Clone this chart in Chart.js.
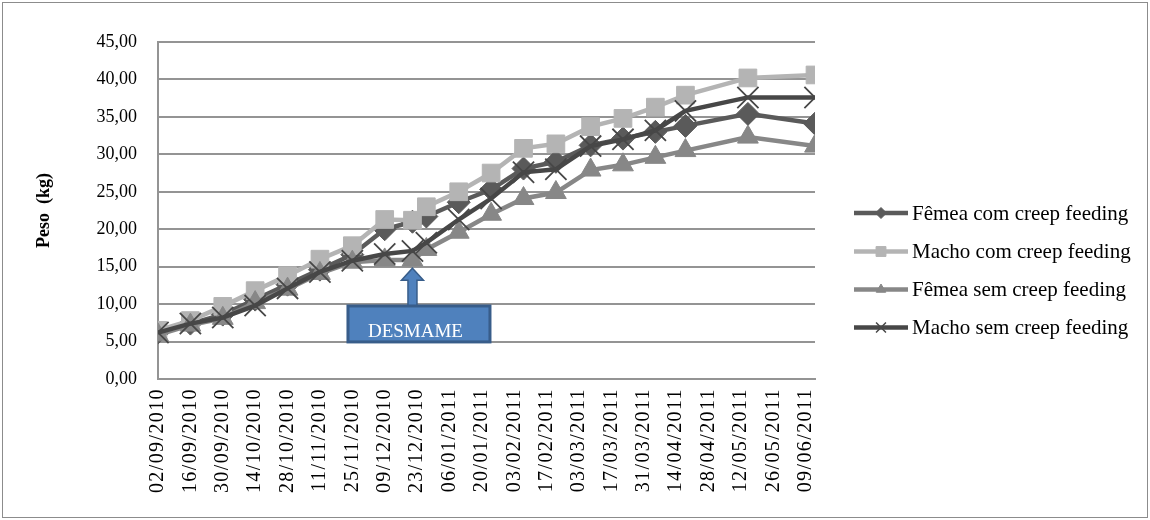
<!DOCTYPE html>
<html>
<head>
<meta charset="utf-8">
<title>Peso (kg)</title>
<style>
  html, body { margin: 0; padding: 0; background: #ffffff; }
  #wrap { width: 1150px; height: 520px; position: relative; }
</style>
<script src="https://cdn.jsdelivr.net/npm/chart.js@4.4.1/dist/chart.umd.min.js"></script>
</head>
<body>
<div id="wrap"><canvas id="chart" width="1150" height="520"></canvas></div>
<script>
// Weighing dates (dd/mm/yyyy)
const weighDates = [
  '02/09/2010', '16/09/2010', '30/09/2010', '14/10/2010', '28/10/2010',
  '11/11/2010', '25/11/2010', '09/12/2010', '21/12/2010', '27/12/2010',
  '10/01/2011', '24/01/2011', '07/02/2011', '21/02/2011', '08/03/2011',
  '22/03/2011', '05/04/2011', '18/04/2011', '15/05/2011', '13/06/2011'
];

// Mean live weight (kg) per group
const femeaCom = [6.2, 7.4, 8.6, 10.6, 12.6, 14.6, 16.6, 20.0, 21.0, 21.7, 23.6, 25.3, 28.1, 29.0, 31.2, 32.1, 33.0, 33.8, 35.4, 34.1];
const machoCom = [6.5, 7.8, 9.7, 11.8, 13.8, 16.0, 17.8, 21.3, 21.2, 23.0, 25.0, 27.5, 30.8, 31.4, 33.7, 34.8, 36.3, 37.9, 40.2, 40.6];
const femeaSem = [5.9, 7.2, 8.1, 10.2, 12.0, 14.1, 15.6, 15.9, 15.9, 17.3, 19.6, 22.0, 24.1, 24.9, 27.9, 28.6, 29.6, 30.5, 32.3, 31.1];
const machoSem = [6.2, 7.4, 8.2, 9.8, 12.1, 14.3, 15.8, 16.7, 17.1, 18.2, 21.3, 24.1, 27.6, 28.0, 31.1, 32.0, 33.2, 35.8, 37.6, 37.6];

const seriesNames = [
  'Fêmea com creep feeding',
  'Macho com creep feeding',
  'Fêmea sem creep feeding',
  'Macho sem creep feeding'
];

// Date-axis tick labels, one every 14 days
const axisDates = [
  '02/09/2010', '16/09/2010', '30/09/2010', '14/10/2010', '28/10/2010',
  '11/11/2010', '25/11/2010', '09/12/2010', '23/12/2010', '06/01/2011',
  '20/01/2011', '03/02/2011', '17/02/2011', '03/03/2011', '17/03/2011',
  '31/03/2011', '14/04/2011', '28/04/2011', '12/05/2011', '26/05/2011',
  '09/06/2011'
];

const weaningDate = '21/12/2010';
const weaningLabel = 'DESMAME';
const yTicks = [0, 5, 10, 15, 20, 25, 30, 35, 40, 45];

// --- helpers -------------------------------------------------------------
function toUTC(s) {
  const [d, m, y] = s.split('/').map(Number);
  return Date.UTC(y, m - 1, d);
}
const origin = toUTC(weighDates[0]);
function dayOf(s) { return Math.round((toUTC(s) - origin) / 86400000); }

const axisDays = axisDates.map(dayOf);
const lastDay = dayOf(weighDates[weighDates.length - 1]);

function pts(values) {
  return weighDates.map((d, i) => ({ x: dayOf(d), y: values[i] }));
}

const SERIF = "'Liberation Serif', 'Times New Roman', serif";
const GRID = '#949494';

const styles = [
  { color: '#5a5a5a', point: 'rectRot',  radius: 11.5, border: 1 },
  { color: '#b4b4b4', point: 'rect',     radius: 12.5, border: 1 },
  { color: '#878787', point: 'triangle', radius: 12,   border: 1 },
  { color: '#474747', point: 'crossRot', radius: 15,   border: 1.8 }
];
const allSeries = [femeaCom, machoCom, femeaSem, machoSem];

const datasets = allSeries.map((vals, i) => ({
  label: seriesNames[i],
  data: pts(vals),
  borderColor: styles[i].color,
  backgroundColor: styles[i].color,
  borderWidth: 4.5,
  pointStyle: styles[i].point,
  pointRadius: styles[i].radius,
  pointHoverRadius: styles[i].radius,
  pointBackgroundColor: styles[i].color,
  pointBorderColor: styles[i].color,
  pointBorderWidth: styles[i].border,
  tension: 0,
  fill: false,
  order: allSeries.length - i
}));

// --- plugins --------------------------------------------------------------
const pageBackground = {
  id: 'pageBackground',
  beforeDraw(chart) {
    const ctx = chart.ctx;
    ctx.save();
    ctx.fillStyle = '#ffffff';
    ctx.fillRect(0, 0, chart.width, chart.height);
    ctx.restore();
  },
  afterDraw(chart) {
    const ctx = chart.ctx;
    ctx.save();
    ctx.strokeStyle = '#8c8c8c';
    ctx.lineWidth = 1;
    ctx.strokeRect(2.5, 2.5, chart.width - 5, chart.height - 5);
    ctx.restore();
  }
};

// Weaning marker: arrow pointing at the weaning date with a labelled box
const weaningMarker = {
  id: 'weaningMarker',
  afterDatasetsDraw(chart) {
    const { ctx, scales: { x, y } } = chart;
    const ax = x.getPixelForValue(dayOf(weaningDate));
    const tipY = y.getPixelForValue(14.8);
    const headY = y.getPixelForValue(13.2);
    const boxTop = y.getPixelForValue(9.75);
    const boxBottom = y.getPixelForValue(4.95);
    const boxL = ax - 64.5, boxR = ax + 77.5;

    ctx.save();
    // arrow
    ctx.beginPath();
    ctx.moveTo(ax, tipY);
    ctx.lineTo(ax + 11, headY);
    ctx.lineTo(ax + 4.5, headY);
    ctx.lineTo(ax + 4.5, boxTop);
    ctx.lineTo(ax - 4.5, boxTop);
    ctx.lineTo(ax - 4.5, headY);
    ctx.lineTo(ax - 11, headY);
    ctx.closePath();
    ctx.fillStyle = '#4f81bd';
    ctx.fill();
    ctx.strokeStyle = '#385d8a';
    ctx.lineWidth = 1.5;
    ctx.stroke();

    // box
    ctx.fillStyle = '#4f81bd';
    ctx.fillRect(boxL, boxTop, boxR - boxL, boxBottom - boxTop);
    ctx.strokeStyle = '#385d8a';
    ctx.lineWidth = 3;
    ctx.strokeRect(boxL, boxTop, boxR - boxL, boxBottom - boxTop);

    // label
    ctx.fillStyle = '#ffffff';
    ctx.font = '19px ' + SERIF;
    ctx.textAlign = 'center';
    ctx.textBaseline = 'alphabetic';
    ctx.fillText(weaningLabel, ax + 3, boxBottom - 5);
    ctx.restore();
  }
};

// Legend on the right: line sample with marker, then series name
const sideLegend = {
  id: 'sideLegend',
  afterDraw(chart) {
    const ctx = chart.ctx;
    const x0 = 854, x1 = 908, tx = 912;
    const rows = [213, 251.5, 289.5, 327.5];
    ctx.save();
    chart.data.datasets.forEach((ds, i) => {
      const yy = rows[i];
      ctx.beginPath();
      ctx.moveTo(x0, yy);
      ctx.lineTo(x1, yy);
      ctx.strokeStyle = ds.borderColor;
      ctx.lineWidth = 4.5;
      ctx.stroke();
      ctx.fillStyle = ds.pointBackgroundColor;
      ctx.strokeStyle = ds.pointBorderColor;
      ctx.lineWidth = ds.pointStyle === 'crossRot' ? 1.5 : 1;
      const r = ds.pointStyle === 'crossRot' ? 7 : (ds.pointStyle === 'rect' ? 7 : 5.5);
      Chart.helpers.drawPoint(ctx, { pointStyle: ds.pointStyle, radius: r, rotation: 0, borderWidth: 1 }, (x0 + x1) / 2, yy);
      ctx.fillStyle = '#000000';
      ctx.font = '21px ' + SERIF;
      ctx.textAlign = 'left';
      ctx.textBaseline = 'middle';
      ctx.fillText(ds.label, tx, yy + 1);
    });
    ctx.restore();
  }
};

// --- chart ---------------------------------------------------------------
const chart = new Chart(document.getElementById('chart'), {
  type: 'line',
  data: { datasets },
  plugins: [pageBackground, weaningMarker, sideLegend],
  options: {
    responsive: false,
    animation: false,
    events: [],
    layout: { padding: { left: 28, right: 335, top: 42, bottom: 0 } },
    plugins: {
      legend: { display: false },
      tooltip: { enabled: false },
      title: { display: false }
    },
    scales: {
      x: {
        type: 'linear',
        min: 0,
        max: lastDay,
        afterBuildTicks(scale) {
          scale.ticks = axisDays.map(v => ({ value: v }));
        },
        afterFit(scale) { scale.height = 141; },
        grid: { display: false, drawTicks: false },
        border: { display: true, color: GRID, width: 2 },
        ticks: {
          autoSkip: false,
          minRotation: 90,
          maxRotation: 90,
          padding: 9,
          color: '#000000',
          font: { family: SERIF, size: 20 },
          callback: (value, index) => axisDates[index]
        }
      },
      y: {
        min: 0,
        max: 45,
        afterBuildTicks(scale) {
          scale.ticks = yTicks.map(v => ({ value: v }));
        },
        afterFit(scale) { scale.width = 130; },
        grid: { color: GRID, lineWidth: 2, drawTicks: false },
        border: { display: true, color: GRID, width: 2 },
        ticks: {
          padding: 21,
          color: '#000000',
          font: { family: SERIF, size: 18 },
          callback: v => v.toFixed(2).replace('.', ',')
        },
        title: {
          display: true,
          text: 'Peso  (kg)',
          color: '#000000',
          padding: { top: 6, bottom: 0 },
          font: { family: SERIF, size: 18, weight: 'bold' }
        }
      }
    }
  }
});

// Date labels on the x axis are set a little more loosely
const xAxis = chart.scales.x;
const drawDateLabels = xAxis.drawLabels.bind(xAxis);
xAxis.drawLabels = function (area) {
  const c = this.ctx;
  c.save();
  c.letterSpacing = '1.4px';
  drawDateLabels(area);
  c.restore();
};
chart.draw();
</script>
</body>
</html>
